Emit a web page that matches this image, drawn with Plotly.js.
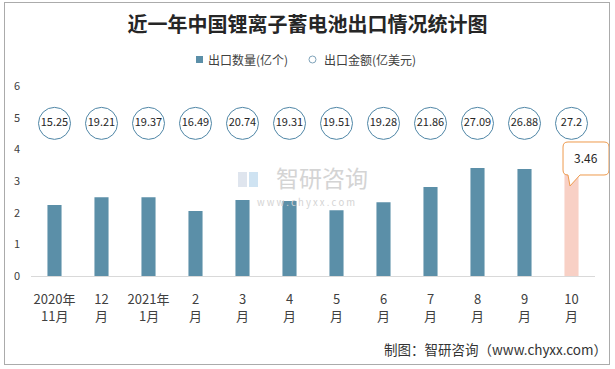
<!DOCTYPE html>
<html>
<head>
<meta charset="utf-8">
<script src="https://cdn.plot.ly/plotly-3.0.1.min.js"></script>
<style>
html,body{margin:0;padding:0;background:#fff;}
#wrap{position:relative;width:615px;height:369px;}
#chart{width:615px;height:369px;}
#frame{position:absolute;left:4px;top:2px;width:604px;height:361px;border:1px solid #ababab;pointer-events:none;}
</style>
</head>
<body>
<div id="wrap"><div id="chart"></div><div id="frame"></div></div>
<script>
// ---- data ----
const categories = ["2020年11月","12月","2021年1月","2月","3月","4月","5月","6月","7月","8月","9月","10月"];
const tickLine1 = ["2020年","12","2021年","2","3","4","5","6","7","8","9","10"];
const tickLine2 = ["11月","月","1月","月","月","月","月","月","月","月","月","月"];
const exportQty = [2.24, 2.49, 2.49, 2.05, 2.40, 2.37, 2.08, 2.33, 2.81, 3.41, 3.38, 3.46]; // 亿个
const exportAmount = [15.25, 19.21, 19.37, 16.49, 20.74, 19.31, 19.51, 19.28, 21.86, 27.09, 26.88, 27.2]; // 亿美元
const seriesNames = ["出口数量(亿个)", "出口金额(亿美元)"];

const FONT = '"Noto Sans CJK SC", "Microsoft YaHei", sans-serif';
const BAR = '#5B8FA8';
const HIGHLIGHT = '#F8D0C5';
const bubbleLevel = exportAmount.map(() => 4.82);

const barColors = exportQty.map((v, i) => i === exportQty.length - 1 ? HIGHLIGHT : BAR);

const traces = [
  {
    type: 'bar', x: categories, y: exportQty, name: seriesNames[0],
    width: 0.3, marker: {color: barColors}, hoverinfo: 'x+y'
  },
  {
    type: 'scatter', mode: 'markers+text', x: categories, y: bubbleLevel,
    text: exportAmount.map(String), textposition: 'middle center',
    textfont: {family: FONT, size: 11, color: '#262626'},
    marker: {size: 32, color: '#ffffff', line: {color: '#4F86A6', width: 1}},
    name: seriesNames[1], cliponaxis: false, hoverinfo: 'x+text'
  }
];

// pixel helpers (plot area: x 31..595, y 86..276)
const L = 31, W = 564, B = 276, H = 190;
const px = X => +((X - L) / W).toFixed(4);
const py = Y => +((B - Y) / H).toFixed(4);
const P = (X, Y) => px(X) + ',' + py(Y);

// callout path
const x0 = 563, x1 = 609, y0 = 142, y1 = 175, r = 5;
const callout = 'M' + P(x0 + r, y0) + ' L' + P(x1 - r, y0) + ' Q' + P(x1, y0) + ' ' + P(x1, y0 + r) +
  ' L' + P(x1, y1 - r) + ' Q' + P(x1, y1) + ' ' + P(x1 - r, y1) +
  ' L' + P(580, y1) + ' L' + P(570, 186) + ' L' + P(568, y1) +
  ' L' + P(x0 + r, y1) + ' Q' + P(x0, y1) + ' ' + P(x0, y1 - r) +
  ' L' + P(x0, y0 + r) + ' Q' + P(x0, y0) + ' ' + P(x0 + r, y0) + ' Z';

const line2Annotations = categories.map((c, i) => ({
  xref: 'x', yref: 'paper', x: c, y: py(315), text: tickLine2[i], showarrow: false,
  xanchor: 'center', yanchor: 'middle', font: {family: FONT, size: 13, color: '#404040'}
}));

const layout = {
  width: 615, height: 369,
  margin: {l: L, r: 615 - L - W, t: 86, b: 93},
  paper_bgcolor: '#ffffff', plot_bgcolor: '#ffffff',
  font: {family: FONT, color: '#404040'},
  title: {text: '近一年中国锂离子蓄电池出口情况统计图', x: 0.5, xanchor: 'center', y: 1 - 25 / 369, yanchor: 'middle',
          font: {family: FONT, size: 20, color: '#262626', weight: 'bold'}},
  showlegend: false,
  barmode: 'overlay',
  xaxis: {
    type: 'category', range: [-0.5, categories.length - 0.5], tickmode: 'array', tickvals: categories, ticktext: tickLine1,
    showgrid: false, zeroline: false, showline: true, linecolor: '#d9d9d9', linewidth: 1,
    ticks: '', tickfont: {family: FONT, size: 13, color: '#404040'}, ticklabelstandoff: 11,
    fixedrange: true
  },
  yaxis: {
    range: [0, 6], dtick: 1, showgrid: false, zeroline: false, showline: false, ticks: '',
    tickfont: {family: FONT, size: 11, color: '#404040'}, ticklabelstandoff: 10, fixedrange: true
  },
  shapes: [
    // watermark logo
    {type: 'rect', xref: 'paper', yref: 'paper', x0: px(238), x1: px(247), y0: py(187), y1: py(172),
     fillcolor: '#dfe5ee', line: {width: 0}, layer: 'below'},
    {type: 'rect', xref: 'paper', yref: 'paper', x0: px(249), x1: px(258), y0: py(187), y1: py(172),
     fillcolor: '#cfe3f2', line: {width: 0}, layer: 'below'},
    // legend markers
    {type: 'rect', xref: 'paper', yref: 'paper', x0: px(196), x1: px(203), y0: py(63), y1: py(56),
     fillcolor: BAR, line: {width: 0}},
    {type: 'circle', xref: 'paper', yref: 'paper', x0: px(309), x1: px(316), y0: py(63), y1: py(56),
     fillcolor: '#ffffff', line: {color: '#7FA3BA', width: 1}},
    // callout
    {type: 'path', xref: 'paper', yref: 'paper', path: callout, fillcolor: '#ffffff',
     line: {color: '#EE9A4D', width: 1}, layer: 'above'}
  ],
  annotations: [
    {xref: 'paper', yref: 'paper', x: px(206), y: py(59), text: seriesNames[0],
     showarrow: false, xanchor: 'left', yanchor: 'middle', font: {family: FONT, size: 12, color: '#404040'}},
    {xref: 'paper', yref: 'paper', x: px(322), y: py(59), text: seriesNames[1],
     showarrow: false, xanchor: 'left', yanchor: 'middle', font: {family: FONT, size: 12, color: '#404040'}},
    {xref: 'paper', yref: 'paper', x: px(586), y: py(158), text: String(exportQty[exportQty.length - 1]),
     showarrow: false, xanchor: 'center', yanchor: 'middle', font: {family: FONT, size: 12, color: '#262626'}},
    {xref: 'paper', yref: 'paper', x: px(609), y: py(349), text: '制图：智研咨询（www.chyxx.com）',
     showarrow: false, xanchor: 'right', yanchor: 'middle', font: {family: FONT, size: 13.5, color: '#333333'}},
    {xref: 'paper', yref: 'paper', x: px(322), y: py(177), text: '智研咨询',
     showarrow: false, xanchor: 'center', yanchor: 'middle', font: {family: FONT, size: 23, color: '#d4d4d4'}},
    {xref: 'paper', yref: 'paper', x: px(306), y: py(202), text: 'w w w . c h y x x . c o m',
     showarrow: false, xanchor: 'center', yanchor: 'middle', font: {family: FONT, size: 9.5, color: '#d4d4d4'}}
  ].concat(line2Annotations)
};

Plotly.newPlot('chart', traces, layout, {displayModeBar: false, staticPlot: true});
</script>
</body>
</html>
